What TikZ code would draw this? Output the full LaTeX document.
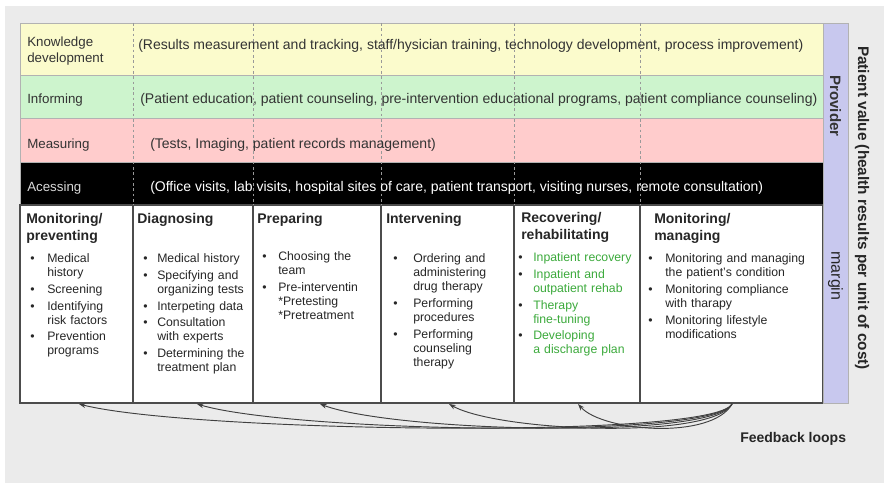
\documentclass[tikz,border=0pt]{standalone}
\usepackage{fontspec}
\setmainfont{Liberation Sans}
\usetikzlibrary{arrows.meta}
\definecolor{bggray}{RGB}{235,235,235}
\definecolor{kyellow}{RGB}{251,251,204}
\definecolor{igreen}{RGB}{205,244,205}
\definecolor{mpink}{RGB}{255,204,204}
\definecolor{plav}{RGB}{200,200,238}
\definecolor{rgreen}{RGB}{60,170,60}
\definecolor{tgray}{RGB}{51,51,51}
\newlength{\bind}
\newcommand{\band}[3]{
\fill[#3](20,#1) rectangle (823,#2);
\draw[gray!60](20,#1) rectangle (823,#2);
}
\newcommand{\bitem}[1]{\par\noindent\hangindent=\bind\hangafter=1\makebox[\bind][l]{\textbullet}#1}
\newcommand{\gitem}[1]{\bitem{{\color{rgreen}#1}}}
\tikzset{
  rowlab/.style={anchor=west, inner sep=0pt, align=left, text=tgray,
    font=\fontsize{10}{12.5}\selectfont},
  rowtxt/.style={rowlab, font=\fontsize{10.5}{12.5}\selectfont},
  colhead/.style={anchor=north west, inner sep=0pt, align=left, text=black!85,
    font=\bfseries\fontsize{10.5}{12.75}\selectfont},
  collist/.style={anchor=north west, inner sep=0pt, align=left, text=black!85,
    text width=#1, font=\fontsize{9.2}{10.5}\selectfont\setlength{\parskip}{2pt}},
  rowdash/.style={gray!80, dash pattern=on 2pt off 2pt, line width=0.6pt},
  coldiv/.style={black!70, line width=0.8pt},
  fbarrow/.style={black!75, line width=0.7pt, -{Stealth[length=5pt,width=3.5pt]}},
}
\begin{document}
\begin{tikzpicture}[x=0.75pt,y=-0.75pt]
\useasboundingbox (0,0) rectangle (884,485);
\fill[bggray](5,6) rectangle (884,483);

\band{23}{75}{kyellow}
\band{75}{118}{igreen}
\band{118}{162}{mpink}
\band{162}{205}{black}

\fill[white](20,205) rectangle (823,403);
\draw[coldiv](20,205) rectangle (823,403);
\foreach \x in {133,253,381,514,640}{
  \draw[rowdash](\x,23)--(\x,205);
  \draw[coldiv](\x,205)--(\x,403);
}

\fill[plav](823,23) rectangle (848,403);
\draw[gray!60](823,23) rectangle (848,403);

\node[rowlab] (kdlab) at (27,51) {Knowledge\\development};
\node[rowtxt] (kdtxt) at (138,46) {(Results measurement and tracking, staff/hysician training, technology development, process improvement)};
\node[rowlab] (inflab) at (27,100) {Informing};
\node[rowtxt] (inftxt) at (140,100) {(Patient education, patient counseling, pre-intervention educational programs, patient compliance counseling)};
\node[rowlab] (measlab) at (27,145) {Measuring};
\node[rowtxt] (meastxt) at (150,145) {(Tests, Imaging, patient records management)};
\node[rowlab, text=black!15] (acclab) at (27,188) {Acessing};
\node[rowtxt, text=white] (acctxt) at (150,188) {(Office visits, lab visits, hospital sites of care, patient transport, visiting nurses, remote consultation)};

\node[colhead] (hd1) at (26,213) {Monitoring/\\preventing};
\node[colhead] (hd2) at (137,213) {Diagnosing};
\node[colhead] (hd3) at (257,213) {Preparing};
\node[colhead] (hd4) at (386,213) {Intervening};
\node[colhead] (hd5) at (521,212) {Recovering/\\rehabilitating};
\node[colhead] (hd6) at (654,213) {Monitoring/\\managing};

\node[collist=80pt] (ls1) at (30,246) {\setlength{\bind}{12.75pt}%
\bitem{Medical\newline history}\bitem{Screening}\bitem{Identifying\newline risk factors}\bitem{Prevention\newline programs}\par};
\node[collist=85pt] (ls2) at (143,246) {\setlength{\bind}{10.5pt}%
\bitem{Medical history}\bitem{Specifying and\newline organizing tests}\bitem{Interpeting data}\bitem{Consultation\newline with experts}\bitem{Determining the\newline treatment plan}\par};
\node[collist=90pt] (ls3) at (262,244) {\setlength{\bind}{12pt}%
\bitem{Choosing the\newline team}\bitem{Pre-interventin\newline *Pretesting\newline *Pretreatment}\par};
\node[collist=95pt] (ls4) at (393,246) {\setlength{\bind}{15pt}%
\bitem{Ordering and\newline administering\newline drug therapy}\bitem{Performing\newline procedures}\bitem{Performing\newline counseling\newline therapy}\par};
\node[collist=95pt] (ls5) at (518,245) {\setlength{\bind}{11.25pt}%
\gitem{Inpatient recovery}\gitem{Inpatient and\newline outpatient rehab}\gitem{Therapy\newline fine-tuning}\gitem{Developing\newline a discharge plan}\par};
\node[collist=130pt] (ls6) at (648,246) {\setlength{\bind}{12.75pt}%
\bitem{Monitoring and managing\newline the patient's condition}\bitem{Monitoring compliance\newline with tharapy}\bitem{Monitoring lifestyle\newline modifications}\par};

\node[rotate=-90, inner sep=0pt, font=\bfseries\fontsize{11.3}{13}\selectfont, text=black!80] (prov) at (835.5,106) {Provider};
\node[rotate=-90, inner sep=0pt, font=\fontsize{12}{14}\selectfont, text=black!85] (marg) at (835.5,276) {margin};
\node[rotate=-90, inner sep=0pt, font=\bfseries\fontsize{11.5}{13}\selectfont, text=black!85] (pval) at (862,208) {Patient value (health results per unit of cost)};
\node[anchor=west, inner sep=0pt, font=\bfseries\fontsize{10.5}{12}\selectfont, text=black!85] (fbtxt) at (740,439) {Feedback loops};

\coordinate (fbsrc) at (732,404);
\coordinate (fb1) at (79,404);
\coordinate (fb2) at (197,404);
\coordinate (fb3) at (320,404);
\coordinate (fb4) at (449,404);
\coordinate (fb5) at (578,404);
\foreach \t/\c in {1/110,2/95,3/75,4/50,5/25}
  \draw[fbarrow](fbsrc) .. controls +(-20,36) and +(\c,28) .. (fb\t);

\end{tikzpicture}
\end{document}
